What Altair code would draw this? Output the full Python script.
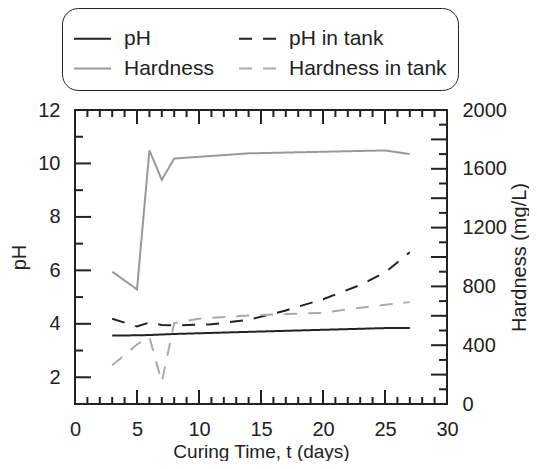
import altair as alt
import pandas as pd

# ---------------- data ----------------
series_names = ["pH", "pH in tank", "Hardness", "Hardness in tank"]

ph_t = [3, 5, 6, 7, 8, 14, 25, 27]
ph_vals = [3.56, 3.57, 3.58, 3.60, 3.62, 3.70, 3.84, 3.84]

ph_tank_t = [3, 5, 6, 7, 8, 11, 14, 17, 20, 23, 25, 27]
ph_tank_vals = [4.19, 3.90, 4.05, 3.96, 3.94, 3.98, 4.15, 4.50, 4.92, 5.45, 5.92, 6.68]

hard_t = [3, 5, 6, 7, 8, 14, 25, 27]
hard_vals = [900, 780, 1725, 1525, 1670, 1705, 1725, 1700]

hard_tank_t = [3, 5, 6, 7, 8, 10, 14, 17, 20, 23, 25, 27]
hard_tank_vals = [263, 405, 455, 150, 550, 580, 602, 612, 620, 655, 675, 693]

x_labels = [0, 5, 10, 15, 20, 25, 30]
x_minor = [v for v in range(1, 30) if v % 5 != 0]
ph_labels = [2, 4, 6, 8, 10, 12]
ph_minor = [1, 3, 5, 7, 9, 11]
hard_labels = [0, 400, 800, 1200, 1600, 2000]
hard_major = list(range(0, 2001, 200))
hard_minor = list(range(100, 2000, 200))

# ---------------- tables ----------------
ph_df = pd.DataFrame(
    {"t": ph_t + ph_tank_t,
     "pH": ph_vals + ph_tank_vals,
     "series": ["pH"] * len(ph_t) + ["pH in tank"] * len(ph_tank_t)}
)
hard_df = pd.DataFrame(
    {"t": hard_t + hard_tank_t,
     "Hardness": hard_vals + hard_tank_vals,
     "series": ["Hardness"] * len(hard_t) + ["Hardness in tank"] * len(hard_tank_t)}
)

W, H = 372, 294
INK = "#222222"
FONT = "Liberation Sans"

x_scale = alt.Scale(domain=[0, 30], nice=False)
ph_scale = alt.Scale(domain=[1, 12], nice=False, zero=False)
hard_scale = alt.Scale(domain=[0, 2000], nice=False)

color_scale = alt.Scale(domain=series_names,
                        range=[INK, INK, "#999999", "#aaaaaa"])
dash_scale = alt.Scale(domain=series_names,
                       range=[[1, 0], [13, 11], [1, 0], [13, 11]])

legend = alt.Legend(
    orient="none", legendX=-13, legendY=-102, columns=2, direction="horizontal",
    title=None,
    symbolType="stroke", symbolSize=1369, symbolStrokeWidth=2,
    labelFontSize=21, labelFont=FONT, labelColor=INK, labelOffset=12,
    columnPadding=21, rowPadding=-3, padding=11, cornerRadius=16,
    strokeColor=INK, fillColor="white",
)

x_axis = alt.Axis(values=x_labels, title="Curing Time, t (days)", ticks=False,
                  tickSize=0, domain=False, labelPadding=15, titleY=53,
                  titleFontSize=19,
                  titleBaseline="alphabetic", labelFlush=False)
ph_axis = alt.Axis(values=ph_labels, title="pH", ticks=False, tickSize=0,
                   domain=False, labelPadding=15, titleAngle=270, titleX=-56,
                   titleY=H / 2, titleAlign="center", titleBaseline="middle")
hard_axis = alt.Axis(orient="right", values=hard_labels, title="Hardness (mg/L)",
                     format="d",
                     ticks=False, tickSize=0, domain=False, labelPadding=15,
                     titleAngle=270, titleX=72, titleY=H / 2,
                     titleAlign="center", titleBaseline="middle")

X = alt.X("t:Q", scale=x_scale, axis=x_axis)
Y_PH = alt.Y("pH:Q", scale=ph_scale, axis=ph_axis)
Y_HARD = alt.Y("Hardness:Q", scale=hard_scale, axis=hard_axis)

ph_lines = alt.Chart(ph_df).mark_line(strokeWidth=2).encode(
    x=X, y=Y_PH,
    color=alt.Color("series:N", scale=color_scale, legend=legend),
    strokeDash=alt.StrokeDash("series:N", scale=dash_scale, legend=legend),
)

hard_lines = alt.Chart(hard_df).mark_line(strokeWidth=2).encode(
    x=X, y=Y_HARD,
    color=alt.Color("series:N", scale=color_scale, legend=legend),
    strokeDash=alt.StrokeDash("series:N", scale=dash_scale, legend=legend),
)


def xticks(vals, length):
    base = alt.Chart(pd.DataFrame({"t": vals})).mark_rule(color=INK, strokeWidth=2)
    bottom = base.encode(x=X, y=alt.value(H), y2=alt.value(H - length))
    top = base.encode(x=X, y=alt.value(0), y2=alt.value(length))
    return [bottom, top]


def phticks(vals, length):
    return alt.Chart(pd.DataFrame({"pH": vals})).mark_rule(color=INK, strokeWidth=2).encode(
        y=Y_PH, x=alt.value(0), x2=alt.value(length))


def hardticks(vals, length):
    return alt.Chart(pd.DataFrame({"Hardness": vals})).mark_rule(color=INK, strokeWidth=2).encode(
        y=Y_HARD, x=alt.value(W), x2=alt.value(W - length))


left = alt.layer(
    ph_lines,
    *xticks(x_labels, 14), *xticks(x_minor, 7),
    phticks(ph_labels, 16), phticks(ph_minor, 8),
)
right = alt.layer(
    hard_lines,
    hardticks(hard_major, 16), hardticks(hard_minor, 8),
)

chart = alt.layer(left, right).resolve_scale(y="independent").properties(
    width=W, height=H,
    autosize=alt.AutoSizeParams(type="none"),
    padding={"left": 67, "top": 102, "right": 82, "bottom": 57},
    background="white",
).configure_view(
    stroke=INK, strokeWidth=2
).configure_axis(
    labelFont=FONT, titleFont=FONT, labelFontSize=20, titleFontSize=20,
    labelColor=INK, titleColor=INK, titleFontWeight="normal", grid=False,
).configure_legend(
    labelFont=FONT, labelFontSize=21,
)

chart.save("out.html", embed_options={"renderer": "svg", "actions": False})
